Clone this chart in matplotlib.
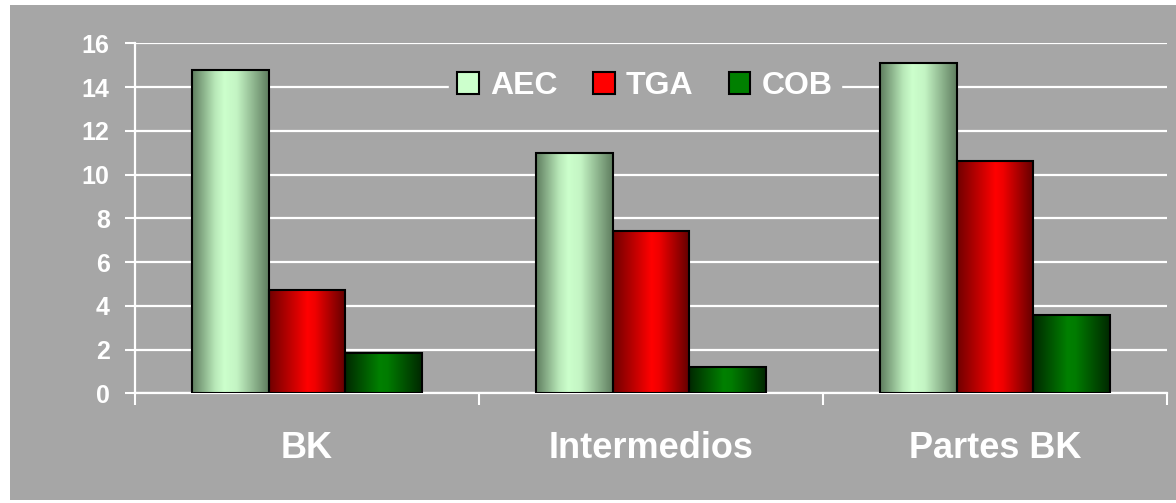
import numpy as np
import matplotlib
matplotlib.use("Agg")
import matplotlib.pyplot as plt
from matplotlib.colors import LinearSegmentedColormap
from matplotlib.patches import Rectangle, Patch

categories = ["BK", "Intermedios", "Partes BK"]
series_names = ["AEC", "TGA", "COB"]
aec = [14.8, 11.0, 15.1]
tga = [4.7, 7.4, 10.6]
cob = [1.85, 1.2, 3.6]
yticks = [0, 2, 4, 6, 8, 10, 12, 14, 16]

BG = "#a6a6a6"
grads = [
    [(0.0, "#5f7d5f"), (0.3, "#b8e8b8"), (0.42, "#ccffcc"), (0.58, "#c4f5c4"), (1.0, "#5f7d5f")],
    [(0.0, "#700000"), (0.5, "#ff0000"), (0.6, "#f00000"), (1.0, "#600000")],
    [(0.0, "#002800"), (0.45, "#008000"), (0.55, "#007c00"), (1.0, "#002800")],
]
solid = ["#ccffcc", "#ff0000", "#008000"]

plt.rcParams["font.family"] = ["Liberation Sans", "DejaVu Sans"]
plt.rcParams["font.weight"] = "bold"

fig = plt.figure(figsize=(11.76, 5.03), dpi=100)
fig.patch.set_facecolor("white")
fig.patches.append(Rectangle((10 / 1176, 0.005), 1 - 10 / 1176, 0.985,
                             transform=fig.transFigure, facecolor=BG,
                             edgecolor="none", zorder=-10))
ax = fig.add_axes([135 / 1176, 109.7 / 503, (1167 - 135) / 1176, (459.7 - 109.7) / 503])
ax.set_facecolor(BG)

n = len(series_names)
w = 1.0 / (n + 1.5)
x = np.arange(len(categories))
all_vals = [aec, tga, cob]
grad_img = np.linspace(0, 1, 256).reshape(1, -1)
for i, vals in enumerate(all_vals):
    cmap = LinearSegmentedColormap.from_list(series_names[i], grads[i])
    offs = x + (i - (n - 1) / 2) * w
    bars = ax.bar(offs, vals, width=w, facecolor="none", edgecolor="black",
                  linewidth=1.5, zorder=4)
    for b in bars:
        x0, y0 = b.get_x(), b.get_y()
        im = ax.imshow(grad_img, cmap=cmap, aspect="auto",
                       extent=[x0, x0 + b.get_width(), y0, y0 + b.get_height()],
                       zorder=3, interpolation="bilinear")
        im.set_clip_path(b)

ax.set_xlim(-0.5, len(categories) - 0.5)
ax.set_ylim(0, 16)
ax.set_yticks(yticks)
ax.set_yticklabels([str(t) for t in yticks])
ax.set_xticks(x)
ax.set_xticklabels(categories)
ax.set_xticks(np.arange(len(categories) + 1) - 0.5, minor=True)
ax.tick_params(axis="x", which="major", length=0, pad=27, labelsize=26,
               labelcolor="white")
ax.tick_params(axis="x", which="minor", length=8.5, width=1.5, color="white",
               direction="out")
ax.tick_params(axis="y", length=7.2, width=1.5, color="white", pad=11,
               labelsize=18, labelcolor="white")
for lab in ax.get_xticklabels() + ax.get_yticklabels():
    lab.set_fontweight("bold")
ax.grid(axis="y", color="white", linewidth=1.6, zorder=1)
ax.set_axisbelow(True)
for s in ["top", "right"]:
    ax.spines[s].set_visible(False)
for s in ["left", "bottom"]:
    ax.spines[s].set_color("white")
    ax.spines[s].set_linewidth(1.6)

handles = [Patch(facecolor=solid[i], edgecolor="black", linewidth=1.5)
           for i in range(n)]
leg = ax.legend(handles, series_names, loc="center", ncol=3,
                bbox_to_anchor=((645 - 135) / 1032, (503 - 86 - 109.7) / 350),
                frameon=True, facecolor=BG, edgecolor=BG, framealpha=1,
                handlelength=0.68, handleheight=0.68,
                handletextpad=0.35, columnspacing=1.1, borderpad=0.25,
                prop={"weight": "bold", "size": 23})
leg.set_zorder(5)
for t in leg.get_texts():
    t.set_color("white")

fig.savefig("out.png", dpi=100, facecolor=fig.get_facecolor())
